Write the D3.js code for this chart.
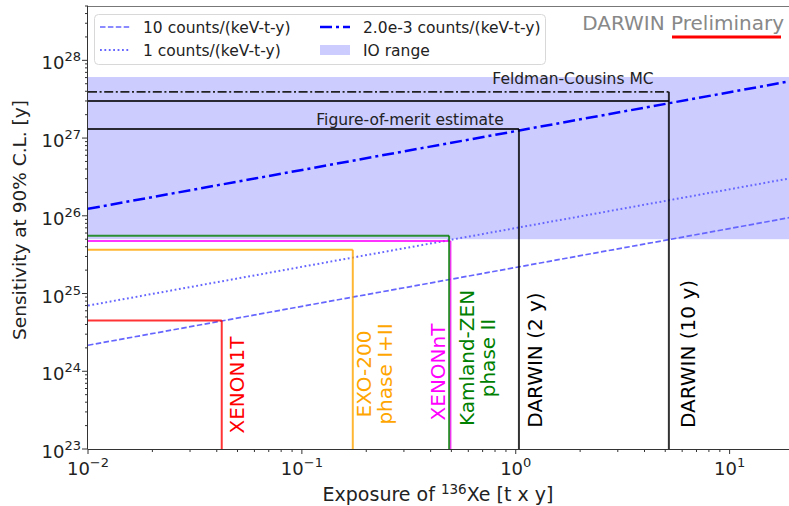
<!DOCTYPE html>
<html>
<head>
<meta charset="utf-8">
<script src="https://cdn.jsdelivr.net/npm/d3@7"></script>
<style>
  body { margin: 0; background: #fff; }
  text { font-family: "DejaVu Sans", sans-serif; }
</style>
</head>
<body>
<div id="chart"></div>
<script>
// background-limited sensitivity bands (end points of straight lines on log-log)
var bgExposure = [0.01, 20];
var sens10 = [2.16e24, 9.7e25];
var sens1 = [7.0e24, 3.1e26];
var sens2e3 = [1.23e26, 5.5e27];

// inverted-ordering range
var ioRange = [5.0e25, 6.1e27];

// experiments: exposure of 136Xe [t x y] and sensitivity [y]
var expNames = ["XENON1T", "EXO-200\nphase I+II", "XENONnT", "Kamland-ZEN\nphase II", "DARWIN (2 y)", "DARWIN (10 y)"];
var expExposure = [0.0422, 0.173, 0.495, 0.488, 1.035, 5.2];
var expSens = [4.5e24, 3.66e25, 4.75e25, 5.55e25, 1.31e27, 2.99e27];
var expColors = ["#ff0000", "#ffa500", "#ff00ff", "#008000", "#000000", "#000000"];

// Feldman-Cousins MC result for DARWIN (10 y)
var fcExposure = 5.2;
var fcSens = 3.94e27;

var xTickVals = [0.01, 0.1, 1, 10];
var yTickVals = [1e23, 1e24, 1e25, 1e26, 1e27, 1e28];

(function () {
  var width = 789,
    height = 506;

  var left = 88, top = 6, bottom = 449, right = 794;

  var svg = d3.select("#chart")
    .append("svg")
    .attr("width", width)
    .attr("height", height)

  var x = d3.scaleLog().domain([0.01, 20]).range([left, right]);
  var y = d3.scaleLog().domain([1e23, 5e28]).range([bottom, top]);

  svg.append("defs").append("clipPath").attr("id", "plot")
    .append("rect")
    .attr("x", left).attr("y", top)
    .attr("width", right - left).attr("height", bottom - top)

  var g = svg.append("g").attr("clip-path", "url(#plot)");

  // IO band
  g.append("rect")
    .attr("x", left)
    .attr("width", right - left)
    .attr("y", y(ioRange[1]))
    .attr("height", y(ioRange[0]) - y(ioRange[1]))
    .attr("fill", "#0000ff")
    .attr("fill-opacity", 0.2)

  var line = d3.line()
    .x(function (d) { return x(d[0]) })
    .y(function (d) { return y(d[1]) })

  function pairs(xs, ys) {
    return xs.map(function (v, i) { return [v, ys[i]] })
  }

  g.append("path")
    .datum(pairs(bgExposure, sens10))
    .attr("d", line)
    .attr("fill", "none")
    .attr("stroke", "#6666ff")
    .attr("stroke-width", 1.7)
    .attr("stroke-dasharray", "5.5,2.4")

  g.append("path")
    .datum(pairs(bgExposure, sens1))
    .attr("d", line)
    .attr("fill", "none")
    .attr("stroke", "#6666ff")
    .attr("stroke-width", 2)
    .attr("stroke-dasharray", "1.8,2.6")

  g.append("path")
    .datum(pairs(bgExposure, sens2e3))
    .attr("d", line)
    .attr("fill", "none")
    .attr("stroke", "#0000ff")
    .attr("stroke-width", 2.5)
    .attr("stroke-dasharray", "12,4,3,4")

  // Feldman-Cousins line
  g.append("path")
    .datum([[0.01, fcSens], [fcExposure, fcSens]])
    .attr("d", line)
    .attr("fill", "none")
    .attr("stroke", "#222")
    .attr("stroke-width", 1.8)
    .attr("stroke-dasharray", "9,2.6,2,2.6")

  // experiment boxes
  expNames.forEach(function (name, i) {
    var topVal = expSens[i];
    if (name === "DARWIN (10 y)") topVal = Math.max(topVal, fcSens);
    g.append("path")
      .datum([[0.01, expSens[i]], [expExposure[i], expSens[i]]])
      .attr("d", line)
      .attr("fill", "none")
      .attr("stroke", expColors[i])
      .attr("stroke-opacity", 0.8)
      .attr("stroke-width", 2)
    g.append("path")
      .datum([[expExposure[i], topVal], [expExposure[i], 1e23]])
      .attr("d", line)
      .attr("fill", "none")
      .attr("stroke", expColors[i])
      .attr("stroke-opacity", 0.8)
      .attr("stroke-width", 2)
  });

  // rotated experiment labels: offset from line, vertical centre
  var labelDx = [15, 22, -13, 28, 16, 19];
  var labelCy = [385, 374, 372, 358, 360, 354];
  expNames.forEach(function (name, i) {
    var lines = name.split("\n");
    var cx = x(expExposure[i]) + labelDx[i];
    var t = svg.append("text")
      .attr("transform", "translate(" + cx + "," + labelCy[i] + ") rotate(-90)")
      .attr("text-anchor", "middle")
      .attr("fill", expColors[i])
      .attr("font-size", "20px")
    lines.forEach(function (l, k) {
      t.append("tspan")
        .attr("x", 0)
        .attr("y", (k - (lines.length - 1) / 2) * 21)
        .attr("dy", "0.36em")
        .text(l)
    })
  });

  svg.append("text")
    .attr("x", 410).attr("y", 125)
    .attr("text-anchor", "middle")
    .attr("font-size", "15.5px")
    .attr("fill", "#222")
    .text("Figure-of-merit estimate")

  svg.append("text")
    .attr("x", 573).attr("y", 84)
    .attr("text-anchor", "middle")
    .attr("font-size", "15.5px")
    .attr("fill", "#222")
    .text("Feldman-Cousins MC")

  // axes
  var axisColor = "#333";
  var xAxis = svg.append("g");
  xAxis.append("line")
    .attr("x1", left).attr("x2", right)
    .attr("y1", bottom + 0.5).attr("y2", bottom + 0.5)
    .attr("stroke", axisColor).attr("stroke-width", 1)
  xAxis.selectAll(".xt")
    .data(x.ticks(10))
    .enter().append("line")
    .attr("x1", function (d) { return x(d) })
    .attr("x2", function (d) { return x(d) })
    .attr("y1", bottom)
    .attr("y2", function (d) { return xTickVals.indexOf(d) >= 0 ? bottom + 5 : bottom + 3 })
    .attr("stroke", axisColor)

  var yAxis = svg.append("g");
  yAxis.append("line")
    .attr("x1", left - 0.5).attr("x2", left - 0.5)
    .attr("y1", top).attr("y2", bottom)
    .attr("stroke", axisColor).attr("stroke-width", 1)
  svg.append("line")
    .attr("x1", left).attr("x2", right)
    .attr("y1", top + 0.5).attr("y2", top + 0.5)
    .attr("stroke", "#777").attr("stroke-width", 1)
  yAxis.selectAll(".yt")
    .data(y.ticks(10))
    .enter().append("line")
    .attr("y1", function (d) { return y(d) })
    .attr("y2", function (d) { return y(d) })
    .attr("x1", left)
    .attr("x2", function (d) { return yTickVals.indexOf(d) >= 0 ? left - 6 : left - 3 })
    .attr("stroke", axisColor)

  function expOf(v) {
    return String(Math.round(Math.log10(v))).replace("-", "\u2212");
  }

  xTickVals.forEach(function (v) {
    var t = svg.append("text")
      .attr("x", x(v)).attr("y", 475)
      .attr("text-anchor", "middle")
      .attr("font-size", "18px")
      .attr("fill", "#222")
    t.append("tspan").text("10")
    t.append("tspan").attr("dy", -8).attr("font-size", "13px").text(expOf(v))
  });

  yTickVals.forEach(function (v) {
    var t = svg.append("text")
      .attr("x", 81).attr("y", y(v) + 9)
      .attr("text-anchor", "end")
      .attr("font-size", "18px")
      .attr("fill", "#222")
    t.append("tspan").text("10")
    t.append("tspan").attr("dy", -8).attr("font-size", "13px").text(expOf(v))
  });

  var xl = svg.append("text")
    .attr("x", 438).attr("y", 501)
    .attr("text-anchor", "middle")
    .attr("font-size", "19px")
    .attr("fill", "#222")
  xl.append("tspan").text("Exposure of ")
  xl.append("tspan").attr("dy", -7).attr("font-size", "13.5px").text("136")
  xl.append("tspan").attr("dy", 7).text("Xe [t x y]")

  svg.append("text")
    .attr("transform", "translate(26,220) rotate(-90)")
    .attr("text-anchor", "middle")
    .attr("font-size", "18.5px")
    .attr("fill", "#222")
    .text("Sensitivity at 90% C.L. [y]")

  // legend
  var leg = svg.append("g");
  leg.append("rect")
    .attr("x", 94.5).attr("y", 14.5)
    .attr("width", 451).attr("height", 50)
    .attr("rx", 4)
    .attr("fill", "#fff").attr("fill-opacity", 0.8)
    .attr("stroke", "#d8d8d8")

  var legItems = [
    { label: "10 counts/(keV-t-y)", col: 0, row: 0, stroke: "#6666ff", w: 1.7, dash: "5.5,2.4" },
    { label: "1 counts/(keV-t-y)", col: 0, row: 1, stroke: "#6666ff", w: 2, dash: "1.8,2.6" },
    { label: "2.0e-3 counts/(keV-t-y)", col: 1, row: 0, stroke: "#0000ff", w: 2.5, dash: "12,4,3,4" },
    { label: "IO range", col: 1, row: 1, band: true }
  ];
  legItems.forEach(function (d) {
    var x0 = d.col ? 320 : 100;
    var cy = d.row ? 50 : 27;
    if (d.band) {
      leg.append("rect")
        .attr("x", x0).attr("y", cy - 5)
        .attr("width", 30).attr("height", 10)
        .attr("fill", "#0000ff").attr("fill-opacity", 0.2)
    } else {
      leg.append("line")
        .attr("x1", x0).attr("x2", x0 + 30)
        .attr("y1", cy).attr("y2", cy)
        .attr("stroke", d.stroke)
        .attr("stroke-width", d.w)
        .attr("stroke-dasharray", d.dash)
    }
    leg.append("text")
      .attr("x", x0 + 43).attr("y", cy + 5.5)
      .attr("font-size", "15.5px")
      .attr("fill", "#222")
      .text(d.label)
  });

  // preliminary stamp
  svg.append("text")
    .attr("x", 784).attr("y", 30)
    .attr("text-anchor", "end")
    .attr("font-size", "20px")
    .attr("fill", "#888")
    .text("DARWIN Preliminary")
  svg.append("line")
    .attr("x1", 672).attr("x2", 781)
    .attr("y1", 37).attr("y2", 37)
    .attr("stroke", "#ff0000")
    .attr("stroke-width", 3)
})();
</script>
</body>
</html>
